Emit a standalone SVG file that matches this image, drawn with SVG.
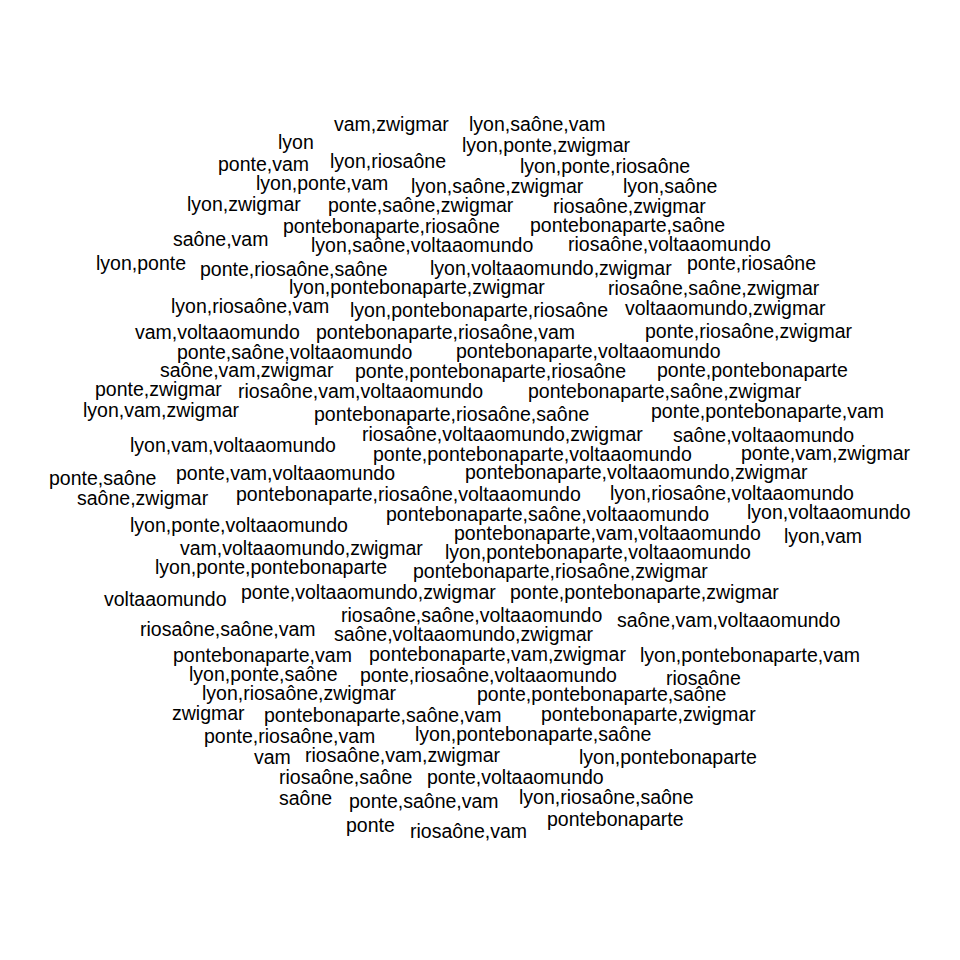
<svg xmlns="http://www.w3.org/2000/svg" width="960" height="960" viewBox="0 0 960 960">
<style>
text{font-family:"Liberation Sans",Arial,Helvetica,sans-serif;font-size:19.5px;fill:#000}
</style>
<rect width="960" height="960" fill="#fff"/>
<g id="cloud">
<text x="334" y="131">vam,zwigmar</text>
<text x="469" y="131">lyon,saône,vam</text>
<text x="278" y="149">lyon</text>
<text x="462" y="152">lyon,ponte,zwigmar</text>
<text x="218" y="171">ponte,vam</text>
<text x="330" y="168">lyon,riosaône</text>
<text x="520" y="173">lyon,ponte,riosaône</text>
<text x="256" y="190">lyon,ponte,vam</text>
<text x="411" y="193">lyon,saône,zwigmar</text>
<text x="623" y="193">lyon,saône</text>
<text x="187" y="211">lyon,zwigmar</text>
<text x="328" y="212">ponte,saône,zwigmar</text>
<text x="553" y="213">riosaône,zwigmar</text>
<text x="283" y="233">pontebonaparte,riosaône</text>
<text x="530" y="232">pontebonaparte,saône</text>
<text x="173" y="246">saône,vam</text>
<text x="311" y="252">lyon,saône,voltaaomundo</text>
<text x="568" y="251">riosaône,voltaaomundo</text>
<text x="96" y="270">lyon,ponte</text>
<text x="200" y="276">ponte,riosaône,saône</text>
<text x="430" y="275">lyon,voltaaomundo,zwigmar</text>
<text x="687" y="270">ponte,riosaône</text>
<text x="289" y="294">lyon,pontebonaparte,zwigmar</text>
<text x="608" y="295">riosaône,saône,zwigmar</text>
<text x="171" y="313">lyon,riosaône,vam</text>
<text x="350" y="317">lyon,pontebonaparte,riosaône</text>
<text x="625" y="315">voltaaomundo,zwigmar</text>
<text x="135" y="339">vam,voltaaomundo</text>
<text x="316" y="339">pontebonaparte,riosaône,vam</text>
<text x="645" y="338">ponte,riosaône,zwigmar</text>
<text x="177" y="359">ponte,saône,voltaaomundo</text>
<text x="456" y="358">pontebonaparte,voltaaomundo</text>
<text x="160" y="377">saône,vam,zwigmar</text>
<text x="355" y="378">ponte,pontebonaparte,riosaône</text>
<text x="657" y="377">ponte,pontebonaparte</text>
<text x="95" y="396">ponte,zwigmar</text>
<text x="238" y="398">riosaône,vam,voltaaomundo</text>
<text x="528" y="398">pontebonaparte,saône,zwigmar</text>
<text x="83" y="417">lyon,vam,zwigmar</text>
<text x="314" y="421">pontebonaparte,riosaône,saône</text>
<text x="651" y="418">ponte,pontebonaparte,vam</text>
<text x="362" y="441">riosaône,voltaaomundo,zwigmar</text>
<text x="673" y="442">saône,voltaaomundo</text>
<text x="130" y="452">lyon,vam,voltaaomundo</text>
<text x="373" y="461">ponte,pontebonaparte,voltaaomundo</text>
<text x="741" y="460">ponte,vam,zwigmar</text>
<text x="49" y="485">ponte,saône</text>
<text x="176" y="480">ponte,vam,voltaaomundo</text>
<text x="465" y="479">pontebonaparte,voltaaomundo,zwigmar</text>
<text x="77" y="505">saône,zwigmar</text>
<text x="236" y="501">pontebonaparte,riosaône,voltaaomundo</text>
<text x="610" y="500">lyon,riosaône,voltaaomundo</text>
<text x="386" y="521">pontebonaparte,saône,voltaaomundo</text>
<text x="747" y="519">lyon,voltaaomundo</text>
<text x="130" y="532">lyon,ponte,voltaaomundo</text>
<text x="454" y="540">pontebonaparte,vam,voltaaomundo</text>
<text x="784" y="543">lyon,vam</text>
<text x="180" y="555">vam,voltaaomundo,zwigmar</text>
<text x="445" y="559">lyon,pontebonaparte,voltaaomundo</text>
<text x="155" y="574">lyon,ponte,pontebonaparte</text>
<text x="413" y="578">pontebonaparte,riosaône,zwigmar</text>
<text x="104" y="606">voltaaomundo</text>
<text x="241" y="599">ponte,voltaaomundo,zwigmar</text>
<text x="510" y="599">ponte,pontebonaparte,zwigmar</text>
<text x="341" y="622">riosaône,saône,voltaaomundo</text>
<text x="617" y="627">saône,vam,voltaaomundo</text>
<text x="140" y="636">riosaône,saône,vam</text>
<text x="334" y="641">saône,voltaaomundo,zwigmar</text>
<text x="173" y="662">pontebonaparte,vam</text>
<text x="369" y="661">pontebonaparte,vam,zwigmar</text>
<text x="640" y="662">lyon,pontebonaparte,vam</text>
<text x="189" y="681">lyon,ponte,saône</text>
<text x="360" y="682">ponte,riosaône,voltaaomundo</text>
<text x="666" y="685">riosaône</text>
<text x="202" y="700">lyon,riosaône,zwigmar</text>
<text x="477" y="701">ponte,pontebonaparte,saône</text>
<text x="172" y="720">zwigmar</text>
<text x="264" y="722">pontebonaparte,saône,vam</text>
<text x="541" y="721">pontebonaparte,zwigmar</text>
<text x="204" y="743">ponte,riosaône,vam</text>
<text x="415" y="741">lyon,pontebonaparte,saône</text>
<text x="254" y="764">vam</text>
<text x="305" y="762">riosaône,vam,zwigmar</text>
<text x="579" y="764">lyon,pontebonaparte</text>
<text x="279" y="784">riosaône,saône</text>
<text x="427" y="784">ponte,voltaaomundo</text>
<text x="279" y="805">saône</text>
<text x="349" y="808">ponte,saône,vam</text>
<text x="519" y="804">lyon,riosaône,saône</text>
<text x="346" y="832">ponte</text>
<text x="410" y="838">riosaône,vam</text>
<text x="547" y="826">pontebonaparte</text>
</g>
</svg>
